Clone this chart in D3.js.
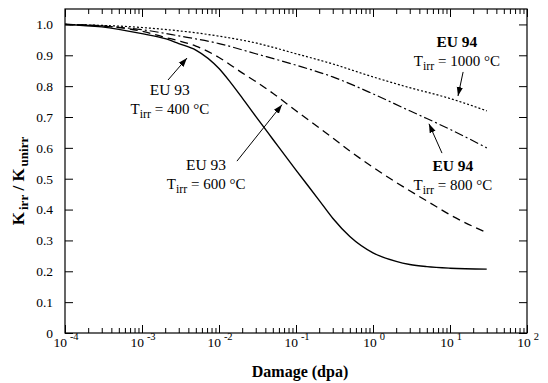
<!DOCTYPE html>
<html>
<head>
<meta charset="utf-8">
<script src="https://cdn.jsdelivr.net/npm/d3@7"></script>
<style>
	body { margin: 0; background: #fff; }
	svg { display: block; }
</style>
</head>
<body>
<svg id="chart" width="548" height="383" font-family="Liberation Serif, DejaVu Serif, serif"></svg>
<script>
// damage (dpa) at which each curve was read
const dpa_400 = [1e-4, 3e-4, 1e-3, 2e-3, 3e-3, 5e-3, 1e-2, 1.4e-2, 2e-2, 3e-2, 5e-2, 0.1, 0.2, 0.3, 0.5, 1, 2, 3, 5, 10, 30];
const k_400 = [1.0, 0.992, 0.97, 0.954, 0.938, 0.917, 0.857, 0.813, 0.762, 0.702, 0.628, 0.528, 0.43, 0.372, 0.313, 0.26, 0.232, 0.222, 0.215, 0.21, 0.207];

const dpa_600 = [1e-4, 3e-4, 1e-3, 2e-3, 3e-3, 5e-3, 1e-2, 2e-2, 3e-2, 5e-2, 0.1, 0.2, 0.3, 0.5, 1, 2, 3, 5, 10, 30];
const k_600 = [1.0, 0.995, 0.978, 0.958, 0.947, 0.93, 0.893, 0.843, 0.815, 0.777, 0.72, 0.665, 0.632, 0.59, 0.537, 0.488, 0.461, 0.428, 0.383, 0.325];

const dpa_800 = [1e-4, 3e-4, 1e-3, 3e-3, 1e-2, 3e-2, 0.1, 0.3, 1, 3, 5, 10, 30];
const k_800 = [1.0, 0.995, 0.983, 0.963, 0.938, 0.905, 0.868, 0.83, 0.775, 0.72, 0.695, 0.66, 0.6];

const dpa_1000 = [1e-4, 1e-3, 1e-2, 3e-2, 0.1, 0.3, 1, 3, 10, 30];
const k_1000 = [1.0, 0.99, 0.962, 0.94, 0.905, 0.872, 0.83, 0.795, 0.76, 0.72];

const xDecades = [1e-4, 1e-3, 1e-2, 1e-1, 1e0, 1e1, 1e2];
const xExponents = ['-4', '-3', '-2', '-1', '0', '1', '2'];
const yTicks = [0, 0.1, 0.2, 0.3, 0.4, 0.5, 0.6, 0.7, 0.8, 0.9, 1.0];

const labels = [
	{ title: 'EU 93', temp: '400 °C', bold: false },
	{ title: 'EU 93', temp: '600 °C', bold: false },
	{ title: 'EU 94', temp: '800 °C', bold: true },
	{ title: 'EU 94', temp: '1000 °C', bold: true },
];

// layout (label anchor + arrow tail/head, all in data units)
const labelPos = [
	{ x: 2.3e-3, y: 0.771, ax0: 2.18e-3, ay0: 0.82, ax1: 3.84e-3, ay1: 0.891 },
	{ x: 6.8e-3, y: 0.528, ax0: 0.0171, ay0: 0.557, ax1: 0.0658, ay1: 0.74 },
	{ x: 10.9, y: 0.525, ax0: 7.87, ay0: 0.583, ax1: 5.33, ay1: 0.678 },
	{ x: 12.3, y: 0.927, ax0: 14.8, ay0: 0.846, ax1: 12.7, ay1: 0.768 },
];

const m = { left: 65, right: 527, top: 9, bottom: 333 };

let svg = d3.select('#chart');
let x = d3.scaleLog().domain([1e-4, 1e2]).range([m.left, m.right]);
let y = d3.scaleLinear().domain([0, 1.05]).range([m.bottom, m.top]);

let minors = x.ticks().filter(d => !xDecades.some(t => Math.abs(t - d) / t < 1e-6));

// ticks, all pointing inward
function tickAxis(axis, tr) {
	let g = svg.append('g').attr('transform', tr).call(axis);
	g.select('.domain').remove();
	g.attr('font-family', null);
	g.selectAll('line').attr('stroke', '#000').attr('stroke-width', 1);
	return g;
}
tickAxis(d3.axisBottom(x).tickValues(xDecades).tickSize(-8).tickFormat(''), `translate(0,${m.bottom})`);
tickAxis(d3.axisBottom(x).tickValues(minors).tickSize(-5).tickFormat(''), `translate(0,${m.bottom})`);
tickAxis(d3.axisTop(x).tickValues(xDecades).tickSize(-8).tickFormat(''), `translate(0,${m.top})`);
tickAxis(d3.axisTop(x).tickValues(minors).tickSize(-5).tickFormat(''), `translate(0,${m.top})`);
tickAxis(d3.axisRight(y).tickValues(yTicks).tickSize(-8).tickFormat(''), `translate(${m.right},0)`);

let yAxis = tickAxis(d3.axisLeft(y).tickValues(yTicks).tickSize(-8).tickPadding(12)
	.tickFormat(d => d === 0 ? '0' : d.toFixed(1)), `translate(${m.left},0)`);
yAxis.attr('font-size', 13.5);
yAxis.selectAll('text').attr('fill', '#000');

// frame
svg.append('rect')
	.attr('x', m.left).attr('y', m.top)
	.attr('width', m.right - m.left).attr('height', m.bottom - m.top)
	.attr('fill', 'none').attr('stroke', '#000').attr('stroke-width', 1.2);

// decade labels 10^n
let xl = svg.append('g').selectAll('text')
	.data(xDecades)
	.enter().append('text')
	.attr('x', d => x(d) + 1)
	.attr('y', 347)
	.attr('text-anchor', 'middle')
	.attr('font-size', 13.5);
xl.append('tspan').text('10');
xl.append('tspan').attr('dx', 3).attr('dy', -7).attr('font-size', 10.5).text((d, i) => xExponents[i]);

// curves
let line = d3.line()
	.x(d => x(d[0]))
	.y(d => y(d[1]))
	.curve(d3.curveMonotoneX);

let series = [
	{ pts: d3.zip(dpa_400, k_400), dash: null, w: 1.4 },
	{ pts: d3.zip(dpa_600, k_600), dash: '8,5', w: 1.3 },
	{ pts: d3.zip(dpa_800, k_800), dash: '9,3,2,3', w: 1.2 },
	{ pts: d3.zip(dpa_1000, k_1000), dash: '2,2', w: 1.2 },
];
svg.append('g').selectAll('path')
	.data(series)
	.enter().append('path')
	.attr('d', d => line(d.pts))
	.attr('fill', 'none')
	.attr('stroke', '#000')
	.attr('stroke-width', d => d.w)
	.attr('stroke-dasharray', d => d.dash);

// annotations
svg.append('defs').append('marker')
	.attr('id', 'arrow')
	.attr('viewBox', '0 0 10 10')
	.attr('refX', 10).attr('refY', 5)
	.attr('markerWidth', 9).attr('markerHeight', 9)
	.attr('markerUnits', 'userSpaceOnUse')
	.attr('orient', 'auto')
	.append('path').attr('d', 'M0,1.5L10,5L0,8.5Z').attr('fill', '#000');

let ann = svg.append('g').selectAll('g')
	.data(labels)
	.enter().append('g');

ann.append('line')
	.attr('x1', (d, i) => x(labelPos[i].ax0)).attr('y1', (d, i) => y(labelPos[i].ay0))
	.attr('x2', (d, i) => x(labelPos[i].ax1)).attr('y2', (d, i) => y(labelPos[i].ay1))
	.attr('stroke', '#000').attr('stroke-width', 1)
	.attr('marker-end', 'url(#arrow)');

ann.append('text')
	.attr('x', (d, i) => x(labelPos[i].x))
	.attr('y', (d, i) => y(labelPos[i].y))
	.attr('text-anchor', 'middle')
	.attr('font-size', 15.5)
	.attr('font-weight', d => d.bold ? 'bold' : 'normal')
	.text(d => d.title);

let tl = ann.append('text')
	.attr('x', (d, i) => x(labelPos[i].x))
	.attr('y', (d, i) => y(labelPos[i].y) + 19)
	.attr('text-anchor', 'middle')
	.attr('font-size', 15);
tl.append('tspan').text('T');
tl.append('tspan').attr('dy', 4).attr('font-size', 12).text('irr');
tl.append('tspan').attr('dy', -4).text(d => ' = ' + d.temp);

// axis titles
svg.append('text')
	.attr('x', 300).attr('y', 377)
	.attr('text-anchor', 'middle')
	.attr('font-size', 16).attr('font-weight', 'bold')
	.text('Damage (dpa)');

let yt = svg.append('text')
	.attr('transform', 'translate(24,181) rotate(-90)')
	.attr('text-anchor', 'middle')
	.attr('font-size', 17).attr('font-weight', 'bold');
yt.append('tspan').text('K');
yt.append('tspan').attr('dx', 2).attr('dy', 4).attr('font-size', 13).text('irr');
yt.append('tspan').attr('dy', -4).text(' / K');
yt.append('tspan').attr('dx', 2).attr('dy', 4).attr('font-size', 13).text('unirr');
</script>
</body>
</html>
